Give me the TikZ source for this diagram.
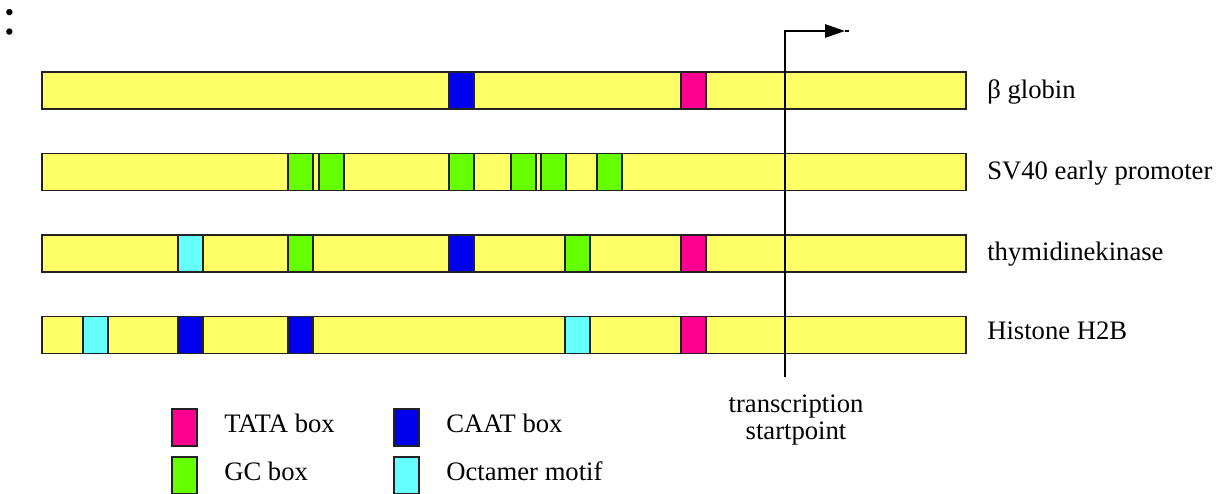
\documentclass[tikz,border=0pt]{standalone}
\usepackage{fontspec}
\setmainfont{Liberation Serif}
\usetikzlibrary{arrows.meta}

\definecolor{dnayellow}{HTML}{FFFF66}
\definecolor{tatapink}{HTML}{FF0090}
\definecolor{caatblue}{HTML}{0000EE}
\definecolor{gcgreen}{HTML}{66FF00}
\definecolor{octcyan}{HTML}{66FFFF}
\definecolor{edge}{HTML}{222222}

\begin{document}
\begin{tikzpicture}[x=0.75pt,y=-0.75pt,
  every node/.style={font=\fontsize{20}{20.25}\selectfont},
  bar/.style={draw=edge, line width=1.2pt, fill=dnayellow, anchor=north west,
    inner sep=0pt, outer sep=0pt, minimum width=693pt, minimum height=27.75pt},
  motif/.style={draw=edge, line width=1.2pt, anchor=north west,
    inner sep=0pt, outer sep=0pt, minimum width=18.75pt, minimum height=27.75pt},
  tata/.style={motif, fill=tatapink},
  caat/.style={motif, fill=caatblue},
  gc/.style={motif, fill=gcgreen},
  oct/.style={motif, fill=octcyan},
  genename/.style={anchor=base west, inner sep=0pt},
  legendtext/.style={anchor=base west, inner sep=0pt},
  startline/.style={line width=1.4pt, draw=black},
]
\useasboundingbox (0,0) rectangle (1225,493);

% colon in the top left corner
\node[font=\fontsize{40}{40}\selectfont, inner sep=0pt, anchor=base,
  text height=18pt, text depth=0pt] (colon) at (10,34) {:};

% promoter bars
\node[bar] (globin)  at (42,72)    {};
\node[bar] (sv40)    at (42,153.5) {};
\node[bar] (tk)      at (42,235)   {};
\node[bar] (histone) at (42,316.5) {};

% beta globin
\node[caat] (g1) at (449,72) {};
\node[tata] (g2) at (681,72) {};

% SV40 early promoter
\node[gc] (s1) at (288,153.5) {};
\node[gc] (s2) at (319,153.5) {};
\node[gc] (s3) at (449,153.5) {};
\node[gc] (s4) at (511,153.5) {};
\node[gc] (s5) at (541,153.5) {};
\node[gc] (s6) at (597,153.5) {};

% thymidine kinase
\node[oct]  (t1) at (178,235) {};
\node[gc]   (t2) at (288,235) {};
\node[caat] (t3) at (449,235) {};
\node[gc]   (t4) at (565,235) {};
\node[tata] (t5) at (681,235) {};

% histone H2B
\node[oct]  (h1) at (83,316.5)  {};
\node[caat] (h2) at (178,316.5) {};
\node[caat] (h3) at (288,316.5) {};
\node[oct]  (h4) at (565,316.5) {};
\node[tata] (h5) at (681,316.5) {};

% gene names
\node[genename] (nglobin)  at (987,98)  {β globin};
\node[genename] (nsv40)    at (987,179) {SV40 early promoter};
\node[genename] (ntk)      at (987,260) {thymidinekinase};
\node[genename] (nhistone) at (987,339) {Histone H2B};

% transcription start
\coordinate (tssfoot) at (785,377);
\coordinate (tsstip)  at (845,31);
\coordinate (tssend)  at (849,31);
\draw[startline, -{Triangle[length=15pt,width=10pt]}] (tssfoot) |- (tsstip);
\draw[startline] (tsstip) -- (tssend);
\node[align=center, inner sep=0pt] (tsslabel) at (796,420) {transcription\\startpoint};

% legend
\node[tata] (ltata) at (172,409) {};
\node[gc]   (lgc)   at (172,457) {};
\node[caat] (lcaat) at (394,409) {};
\node[oct]  (loct)  at (394,457) {};
\node[legendtext] (ttata) at (224,432) {TATA box};
\node[legendtext] (tgc)   at (224,480) {GC box};
\node[legendtext] (tcaat) at (446,432) {CAAT box};
\node[legendtext] (toct)  at (446,480) {Octamer motif};
\end{tikzpicture}
\end{document}
